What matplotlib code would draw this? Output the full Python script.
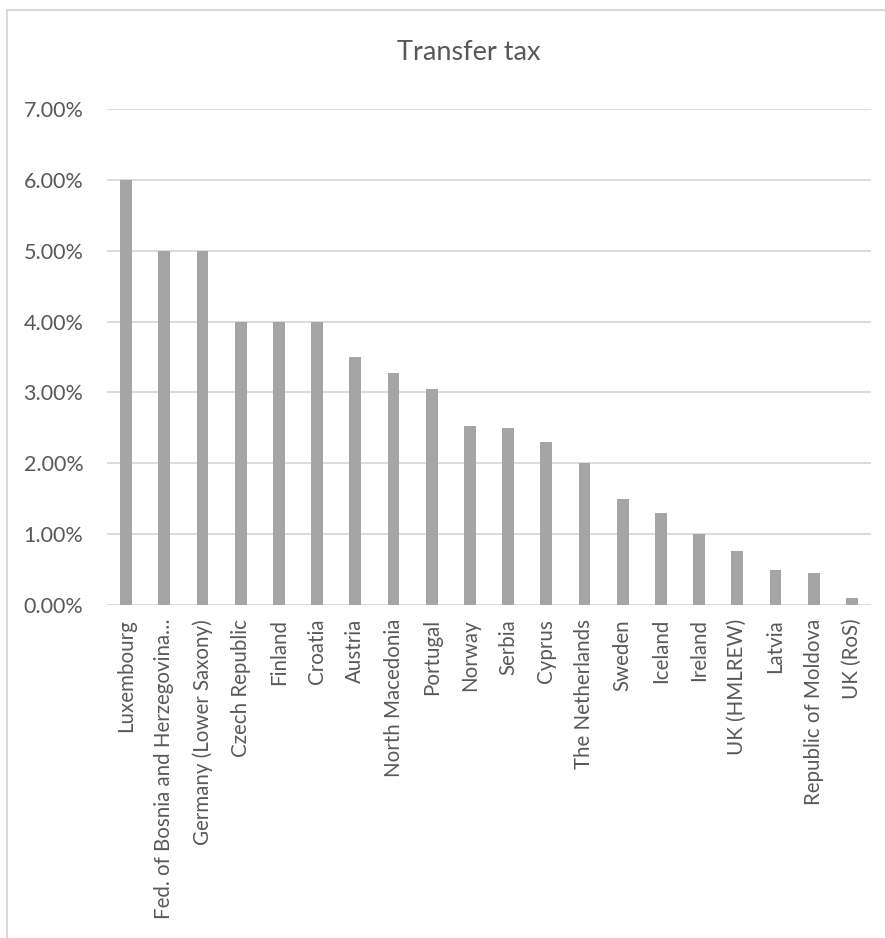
import matplotlib
matplotlib.use("Agg")
import matplotlib.pyplot as plt
from matplotlib.patches import Rectangle
from matplotlib.ticker import FuncFormatter, MultipleLocator

# Transfer tax rates by jurisdiction (as fractions)
countries = ['Luxembourg', 'Fed. of Bosnia and Herzegovina…', 'Germany (Lower Saxony)',
             'Czech Republic', 'Finland', 'Croatia', 'Austria', 'North Macedonia',
             'Portugal', 'Norway', 'Serbia', 'Cyprus', 'The Netherlands', 'Sweden',
             'Iceland', 'Ireland', 'UK (HMLREW)', 'Latvia', 'Republic of Moldova',
             'UK (RoS)']
rates = [0.06, 0.05, 0.05, 0.04, 0.04, 0.04, 0.035, 0.0327, 0.0305, 0.0252,
         0.025, 0.023, 0.02, 0.015, 0.013, 0.01, 0.0076, 0.005, 0.0045, 0.001]

text_col = '#595959'
grid_col = '#d9d9d9'
bar_col = '#a5a5a5'

plt.rcParams['font.family'] = ['Lato', 'DejaVu Sans']

W, H = 885, 938
fig = plt.figure(figsize=(W / 100, H / 100), dpi=100)

# chart area border, cut off at the right and bottom
fig.patches.append(Rectangle((7 / W, -0.1), 1.0, 1 - 10 / H + 0.1,
                             transform=fig.transFigure, fill=False,
                             edgecolor=grid_col, lw=1.5))

ax = fig.add_axes([107 / W, (H - 605) / H, (871 - 107) / W, (605 - 109) / H])

x = range(len(countries))
ax.bar(x, rates, width=0.31, color=bar_col, zorder=3)

ax.set_xlim(-0.5, len(countries) - 0.5)
ax.set_ylim(0, 0.07)
ax.yaxis.set_major_locator(MultipleLocator(0.01))
ax.yaxis.set_major_formatter(FuncFormatter(lambda v, p: f'{v * 100:.2f}%'))
ax.grid(axis='y', color=grid_col, lw=1.3, zorder=0)

for s in ax.spines.values():
    s.set_visible(False)

ax.set_xticks(list(x))
ax.set_xticklabels(countries, rotation=90, va='top', ha='center')
ax.tick_params(axis='both', length=0, colors=text_col)
ax.tick_params(axis='y', pad=17, labelsize=15.5)
ax.tick_params(axis='x', pad=10, labelsize=14.8)

fig.text((397 + 540) / 2 / W, 1 - 52 / H, 'Transfer tax', ha='center', va='center',
         fontsize=19.5, color=text_col)

fig.savefig('out.png', dpi=100)
